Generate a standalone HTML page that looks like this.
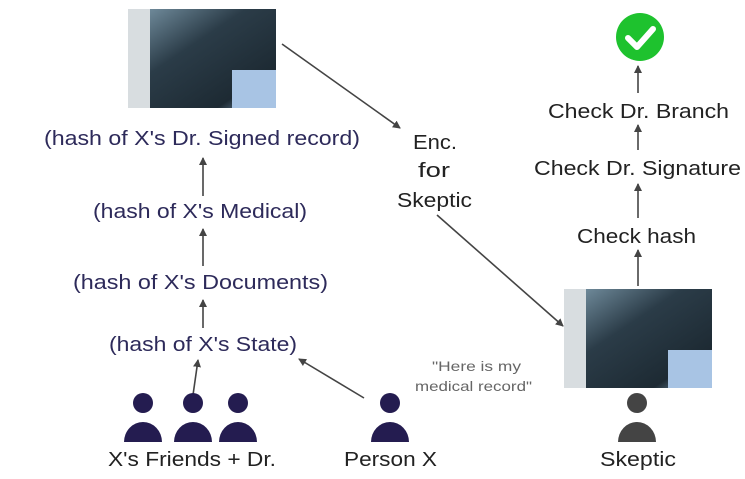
<!DOCTYPE html>
<html><head><meta charset="utf-8"><style>
body{margin:0;width:745px;height:474px;background:#fff;overflow:hidden;font-family:"Liberation Sans",sans-serif}
</style></head><body>
<svg width="745" height="474" xmlns="http://www.w3.org/2000/svg">
<defs>
<marker id="a" markerWidth="8" markerHeight="8" refX="7" refY="4" orient="auto" markerUnits="userSpaceOnUse"><path d="M0,0 L8,4 L0,8 z" fill="#444"/></marker>
<linearGradient id="x" x1="0" y1="0" x2="1" y2="1"><stop offset="0" stop-color="#7d9aab"/><stop offset="0.4" stop-color="#2b3c48"/><stop offset="0.8" stop-color="#1d2a33"/><stop offset="1" stop-color="#8fb0d0"/></linearGradient>
</defs>
<g>
<rect x="128" y="9" width="148" height="99" fill="url(#x)"/>
<rect x="128" y="9" width="22" height="99" fill="#d8dde0"/>
<rect x="232" y="70" width="44" height="38" fill="#a8c4e4"/>
<rect x="564" y="289" width="148" height="99" fill="url(#x)"/>
<rect x="564" y="289" width="22" height="99" fill="#d8dde0"/>
<rect x="668" y="350" width="44" height="38" fill="#a8c4e4"/>
</g>
<g font-size="20" fill="#2d2a5a" lengthAdjust="spacingAndGlyphs">
<text x="44" y="145" textLength="316" lengthAdjust="spacingAndGlyphs">(hash of X's Dr. Signed record)</text>
<text x="93" y="218" textLength="214" lengthAdjust="spacingAndGlyphs">(hash of X's Medical)</text>
<text x="73" y="289" textLength="255" lengthAdjust="spacingAndGlyphs">(hash of X's Documents)</text>
<text x="109" y="351" textLength="188" lengthAdjust="spacingAndGlyphs">(hash of X's State)</text>
</g>
<g font-size="20" fill="#222">
<text x="413" y="149" textLength="44" lengthAdjust="spacingAndGlyphs">Enc.</text>
<text x="418" y="177" textLength="32" lengthAdjust="spacingAndGlyphs">for</text>
<text x="397" y="207" textLength="75" lengthAdjust="spacingAndGlyphs">Skeptic</text>
<text x="548" y="118" textLength="181" lengthAdjust="spacingAndGlyphs">Check Dr. Branch</text>
<text x="534" y="175" textLength="207" lengthAdjust="spacingAndGlyphs">Check Dr. Signature</text>
<text x="577" y="243" textLength="119" lengthAdjust="spacingAndGlyphs">Check hash</text>
<text x="108" y="466" textLength="168" lengthAdjust="spacingAndGlyphs">X's Friends + Dr.</text>
<text x="344" y="466" textLength="93" lengthAdjust="spacingAndGlyphs">Person X</text>
<text x="600" y="466" textLength="76" lengthAdjust="spacingAndGlyphs">Skeptic</text>
</g>
<g font-size="14" fill="#666">
<text x="432" y="371" textLength="89" lengthAdjust="spacingAndGlyphs">"Here is my</text>
<text x="415" y="391" textLength="117" lengthAdjust="spacingAndGlyphs">medical record"</text>
</g>
<g stroke="#444" stroke-width="1.6" marker-end="url(#a)">
<line x1="203" y1="196" x2="203" y2="158"/>
<line x1="203" y1="266" x2="203" y2="229"/>
<line x1="203" y1="328" x2="203" y2="300"/>
<line x1="193" y1="395" x2="198" y2="360"/>
<line x1="364" y1="398" x2="299" y2="359"/>
<line x1="282" y1="44" x2="400" y2="128"/>
<line x1="437" y1="215" x2="563" y2="326"/>
<line x1="638" y1="286" x2="638" y2="250"/>
<line x1="638" y1="218" x2="638" y2="184"/>
<line x1="638" y1="150" x2="638" y2="125"/>
<line x1="638" y1="93" x2="638" y2="66"/>
</g>
<circle cx="640" cy="37" r="24" fill="#1ec22e"/>
<path d="M628,38 L637,47 L653,29" stroke="#fff" stroke-width="6" fill="none" stroke-linecap="round" stroke-linejoin="round"/>
<g fill="#241c50">
<circle cx="143" cy="403" r="10"/><path d="M124,442 A19,20 0 0 1 162,442 Z"/>
<circle cx="193" cy="403" r="10"/><path d="M174,442 A19,20 0 0 1 212,442 Z"/>
<circle cx="238" cy="403" r="10"/><path d="M219,442 A19,20 0 0 1 257,442 Z"/>
<circle cx="390" cy="403" r="10"/><path d="M371,442 A19,20 0 0 1 409,442 Z"/>
</g>
<g fill="#444"><circle cx="637" cy="403" r="10"/><path d="M618,442 A19,20 0 0 1 656,442 Z"/></g>
</svg>
</body></html>
